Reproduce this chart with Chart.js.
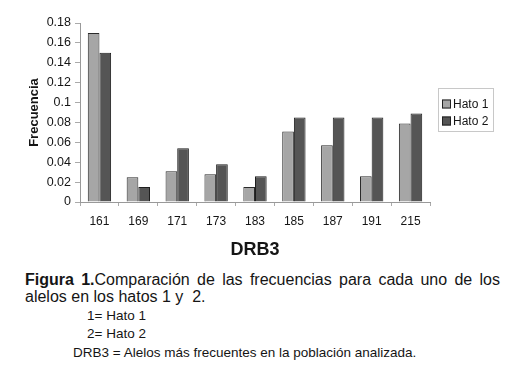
<!DOCTYPE html>
<html>
<head>
<meta charset="utf-8">
<script src="https://cdn.jsdelivr.net/npm/chart.js@4"></script>
<style>
  html, body { margin: 0; padding: 0; background: #fff; }
  body { width: 513px; height: 386px; position: relative; overflow: hidden;
         font-family: "Liberation Sans", Arial, Helvetica, sans-serif; color: #151515; }
  #wrap { position: absolute; left: 0; top: 0; width: 513px; height: 262px; }
  .cap { position: absolute; white-space: nowrap; }
  #l1 { left: 25px; top: 271px; width: 475px; font-size: 16px; line-height: 17px;
        text-align: justify; text-align-last: justify; white-space: normal; }
  #l2 { left: 25px; top: 288px; font-size: 16px; line-height: 17px; }
  #l3 { left: 87px; top: 308px; font-size: 13.5px; line-height: 15px; }
  #l4 { left: 87px; top: 326px; font-size: 13.5px; line-height: 15px; }
  #l5 { left: 73px; top: 345px; font-size: 13.5px; line-height: 15px; }
</style>
</head>
<body>
<div id="wrap"><canvas id="c" width="513" height="262"></canvas></div>
<div class="cap" id="l1"><b>Figura 1.</b>Comparación de las frecuencias para cada uno de los</div>
<div class="cap" id="l2">alelos en los hatos 1 y&nbsp; 2.</div>
<div class="cap" id="l3">1= Hato 1</div>
<div class="cap" id="l4">2= Hato 2</div>
<div class="cap" id="l5">DRB3 = Alelos más frecuentes en la población analizada.</div>
<script>
const categories = ["161", "169", "171", "173", "183", "185", "187", "191", "215"];
const hato1 = [0.170, 0.025, 0.031, 0.028, 0.015, 0.071, 0.057, 0.026, 0.079];
const hato2 = [0.150, 0.015, 0.054, 0.038, 0.026, 0.085, 0.085, 0.085, 0.089];
const seriesNames = ["Hato 1", "Hato 2"];
const yTicks = [0, 0.02, 0.04, 0.06, 0.08, 0.1, 0.12, 0.14, 0.16, 0.18];

const FONT = '"Liberation Sans", Arial, Helvetica, sans-serif';

const boxLegend = {
  id: 'boxLegend',
  afterDraw(chart) {
    const ctx = chart.ctx;
    const x0 = 438, y0 = 88, w = 55, h = 43;
    ctx.save();
    ctx.strokeStyle = '#c8c8c8';
    ctx.lineWidth = 1;
    ctx.strokeRect(x0 + 0.5, y0 + 0.5, w, h);
    ctx.font = '12px ' + FONT;
    ctx.textBaseline = 'middle';
    chart.data.datasets.forEach((ds, i) => {
      const cy = 104 + i * 17;
      ctx.fillStyle = ds.backgroundColor;
      ctx.fillRect(442, cy - 4.5, 9, 9);
      ctx.strokeStyle = '#222';
      ctx.strokeRect(442.5, cy - 4, 8, 8);
      ctx.fillStyle = '#151515';
      ctx.fillText(ds.label, 453, cy + 0.5);
    });
    ctx.restore();
  }
};

new Chart(document.getElementById('c'), {
  type: 'bar',
  data: {
    labels: categories,
    datasets: [
      { label: seriesNames[0], data: hato1, backgroundColor: '#a6a6a6', borderColor: '#2a2a2a', borderWidth: 1 },
      { label: seriesNames[1], data: hato2, backgroundColor: '#555555', borderColor: '#1e1e1e', borderWidth: 1 }
    ]
  },
  options: {
    responsive: false,
    animation: false,
    devicePixelRatio: 1,
    layout: { padding: { left: 27, right: 83, top: 23, bottom: 1 } },
    datasets: { bar: { categoryPercentage: 0.6, barPercentage: 1.0 } },
    plugins: { legend: { display: false }, tooltip: { enabled: false } },
    scales: {
      x: {
        afterFit: s => { s.height = 59; },
        grid: { display: true, offset: true, drawOnChartArea: false, tickLength: 4, color: '#aaa' },
        border: { color: '#999' },
        ticks: { color: '#151515', font: { family: FONT, size: 12 }, padding: 8, maxRotation: 0 },
        title: { display: true, text: 'DRB3', color: '#151515', font: { family: FONT, size: 18, weight: 'bold' }, padding: 0 }
      },
      y: {
        min: 0, max: 0.18,
        afterFit: s => { s.width = 53; },
        afterBuildTicks: s => { s.ticks = yTicks.map(v => ({ value: v })); },
        grid: { display: true, drawOnChartArea: false, tickLength: 5, color: '#aaa' },
        border: { color: '#999' },
        ticks: { color: '#151515', font: { family: FONT, size: 12.5 }, padding: 4,
                 callback: v => String(parseFloat(Number(v).toFixed(2))) },
        title: { display: true, text: 'Frecuencia', color: '#151515', font: { family: FONT, size: 13, weight: 'bold' }, padding: 0 }
      }
    }
  },
  plugins: [boxLegend]
});
</script>
</body>
</html>
